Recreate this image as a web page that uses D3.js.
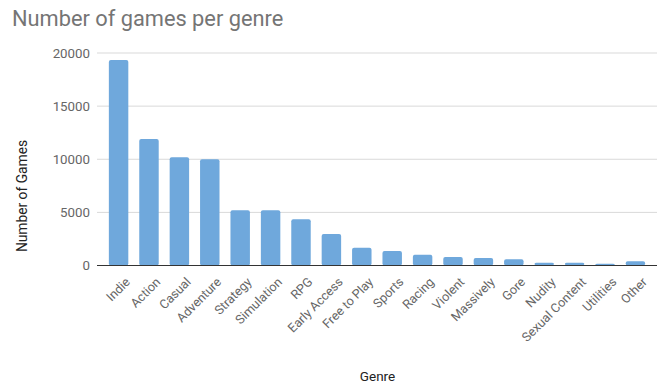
<!DOCTYPE html>
<html><head><meta charset="utf-8">
<script src="https://cdn.jsdelivr.net/npm/d3@7"></script>
<style>body{margin:0;background:#fff;}svg{display:block;font-family:Roboto,"Noto Sans",sans-serif;}</style>
</head><body><svg id="c" width="662" height="383"></svg>
<script>
const genres = ["Indie","Action","Casual","Adventure","Strategy","Simulation","RPG","Early Access","Free to Play","Sports","Racing","Violent","Massively","Gore","Nudity","Sexual Content","Utilities","Other"];
const games = [19340,11900,10180,9990,5200,5200,4350,2960,1670,1360,1020,800,700,580,270,260,170,400];
const yTicks = [0,5000,10000,15000,20000];

(function(){
const svg = d3.select("#c");
const pL = 97, pR = 657, pT = 53, pB = 265.5;
const x = d3.scaleBand().domain(genres).range([pL,pR]).paddingInner(0.36).paddingOuter(0.39);
const y = d3.scaleLinear().domain([0,20000]).range([pB,pT]);

svg.append("text").attr("x",12).attr("y",26).attr("font-size",21.8).attr("fill","#757575").text("Number of games per genre");

const g = svg.append("g");
g.selectAll("line.grid").data(yTicks.filter(d=>d>0)).join("line")
  .attr("x1",pL).attr("x2",pR).attr("y1",d=>y(d)).attr("y2",d=>y(d))
  .attr("stroke","#d9d9d9").attr("stroke-width",1);
g.selectAll("text.yt").data(yTicks).join("text")
  .attr("x",90).attr("y",d=>y(d)+4.5).attr("text-anchor","end")
  .attr("font-size",13.3).attr("fill","#666").text(d=>d);

g.selectAll("rect").data(genres).join("rect")
  .attr("x",d=>x(d)).attr("width",x.bandwidth())
  .attr("y",(d,i)=>y(games[i])).attr("height",(d,i)=>pB-y(games[i]))
  .attr("rx",2).attr("fill","#6fa8dc");

g.append("line").attr("x1",pL).attr("x2",pR).attr("y1",pB).attr("y2",pB).attr("stroke","#333").attr("stroke-width",1.2);

g.selectAll("text.xt").data(genres).join("text")
  .attr("transform",d=>`translate(${x(d)+x.bandwidth()/2+6},${pB+11}) rotate(-45)`)
  .attr("text-anchor","end").attr("dy","0.7em").attr("font-size",12.6).attr("fill","#666").text(d=>d);

svg.append("text").attr("transform","translate(27,196) rotate(-90)").attr("text-anchor","middle")
  .attr("font-size",13.8).attr("fill","#222").text("Number of Games");
svg.append("text").attr("x",377.5).attr("y",381).attr("text-anchor","middle")
  .attr("font-size",13.5).attr("fill","#222").text("Genre");
})();
</script></body></html>
